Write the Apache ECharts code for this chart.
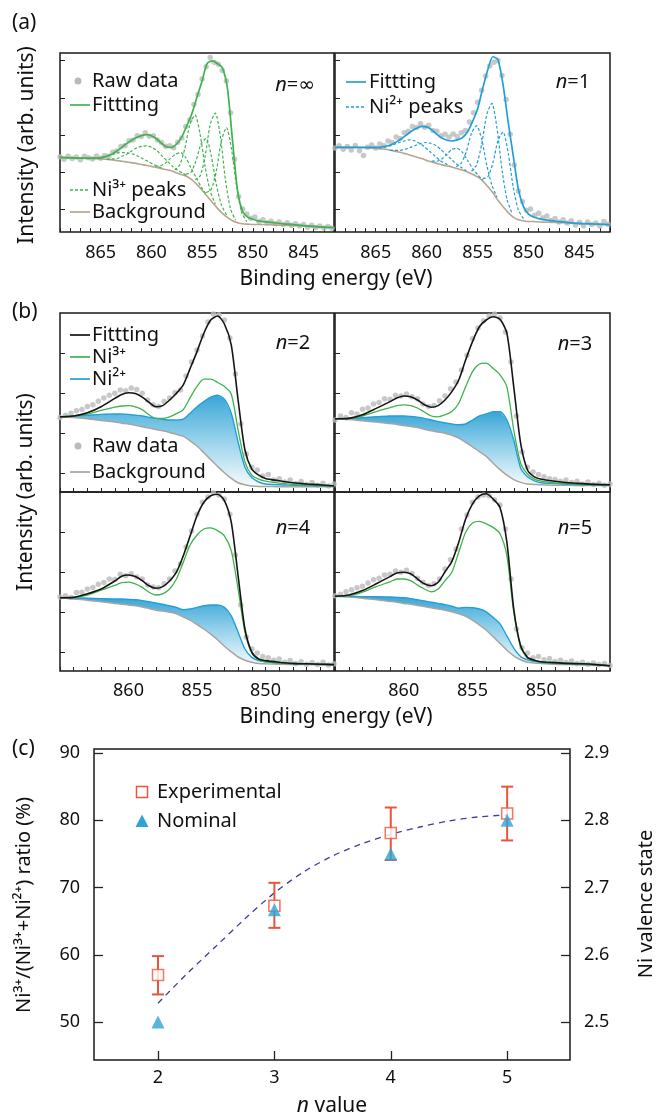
<!DOCTYPE html>
<html>
<head>
<meta charset="utf-8">
<script src="https://cdn.jsdelivr.net/npm/echarts/dist/echarts.min.js"></script>
<style>
  html, body { margin: 0; background: #fff; }
  #chart { width: 669px; height: 1117px; }
</style>
</head>
<body>
<div id="chart"></div>
<script>
// ---- panel (a): binding energy grid for the fitted curves ----
const energyA = [869,868,867,866,865,864.5,864,863.5,863,862.5,862,861.5,861,860.5,860,859.5,859,858.5,858,857.5,857,856.5,856,855.5,855,854.5,854,853.5,853,852.5,852,851.5,851,850.5,850,849.5,849,848,847,846,845,844,843,842];
// n = infinity (Ni3+ only)
const fitInf = [2.00,1.99,1.98,1.98,1.99,2.02,2.07,2.15,2.25,2.36,2.45,2.53,2.58,2.61,2.58,2.50,2.38,2.28,2.27,2.36,2.55,2.85,3.18,3.62,4.05,4.52,4.59,4.52,4.40,3.85,2.45,1.10,0.55,0.40,0.34,0.30,0.28,0.25,0.22,0.20,0.17,0.15,0.13,0.12];
const bgInf = [2.00,1.99,1.98,1.97,1.96,1.95,1.94,1.92,1.90,1.88,1.86,1.84,1.81,1.79,1.76,1.73,1.70,1.67,1.64,1.58,1.54,1.49,1.40,1.27,1.12,0.96,0.80,0.64,0.50,0.39,0.30,0.25,0.22,0.21,0.20,0.20,0.20,0.19,0.18,0.17,0.16,0.14,0.13,0.12];
// n = 1 (Ni2+ only)
const fitOne = [2.27,2.27,2.27,2.27,2.27,2.28,2.30,2.34,2.41,2.50,2.60,2.70,2.78,2.83,2.82,2.74,2.62,2.52,2.46,2.44,2.47,2.53,2.68,2.96,3.30,3.85,4.35,4.70,4.62,3.95,2.95,2.05,1.15,0.68,0.48,0.40,0.36,0.31,0.28,0.25,0.23,0.22,0.21,0.20];
const bgOne = [2.27,2.27,2.27,2.26,2.24,2.23,2.22,2.19,2.16,2.13,2.09,2.05,2.01,1.97,1.92,1.88,1.84,1.80,1.77,1.74,1.70,1.66,1.61,1.55,1.48,1.37,1.22,1.05,0.85,0.68,0.52,0.40,0.33,0.30,0.28,0.28,0.27,0.26,0.25,0.24,0.22,0.21,0.20,0.19];

// Ni3+ component peaks, n = infinity  [energy, intensity]
const peaksInf = [
  [[865.8,1.98],[865.3,1.99],[864.8,2.01],[864.3,2.05],[863.8,2.09],[863.3,2.12],[862.8,2.13],[862.3,2.12],[861.8,2.09],[861.3,2.03],[860.8,1.96],[860.3,1.89],[859.8,1.81],[859.3,1.75],[858.8,1.70]],
  [[864.4,1.95],[863.9,1.96],[863.4,1.97],[862.9,2.03],[862.4,2.09],[861.9,2.18],[861.4,2.26],[860.9,2.30],[860.4,2.31],[859.9,2.26],[859.4,2.17],[858.9,2.03],[858.4,1.89],[857.9,1.76],[857.4,1.65],[856.9,1.58],[856.4,1.48]],
  [[859.6,1.76],[859.1,1.78],[858.6,1.85],[858.1,1.98],[857.6,2.09],[857.1,2.13],[856.6,1.99],[856.1,1.72],[855.6,1.47],[855.1,1.21],[854.6,1.01]],
  [[857.7,1.66],[857.2,1.80],[856.7,2.24],[856.2,2.88],[855.7,3.14],[855.2,2.63],[854.7,1.75],[854.2,1.10],[853.7,0.75]],
  [[856.6,1.55],[856.1,1.60],[855.6,1.91],[855.1,2.36],[854.6,2.51],[854.1,2.05],[853.6,1.28],[853.1,0.73],[852.6,0.46]],
  [[855.7,1.40],[855.2,1.50],[854.7,2.03],[854.2,2.88],[853.7,3.19],[853.2,2.57],[852.7,1.40],[852.2,0.62],[851.7,0.32]],
  [[854.6,1.06],[854.1,1.14],[853.6,1.63],[853.1,2.44],[852.6,2.80],[852.1,2.22],[851.6,1.22],[851.1,0.53],[850.6,0.28]]
];
// Ni2+ component peaks, n = 1
const peaksOne = [
  [[864.7,2.25],[864.2,2.27],[863.7,2.30],[863.2,2.35],[862.7,2.40],[862.2,2.44],[861.7,2.47],[861.2,2.45],[860.7,2.38],[860.2,2.28],[859.7,2.16],[859.2,2.04],[858.7,1.92],[858.2,1.84],[857.7,1.77]],
  [[863.6,2.19],[863.1,2.19],[862.6,2.19],[862.1,2.22],[861.6,2.27],[861.1,2.32],[860.6,2.37],[860.1,2.40],[859.6,2.38],[859.1,2.32],[858.6,2.21],[858.1,2.08],[857.6,1.96],[857.1,1.83],[856.6,1.73],[856.1,1.64]],
  [[859.5,1.90],[859.0,1.90],[858.5,1.96],[858.0,2.09],[857.5,2.22],[857.0,2.24],[856.5,2.14],[856.0,1.93],[855.5,1.71],[855.0,1.54],[854.5,1.39]],
  [[857.1,1.75],[856.6,1.85],[856.1,2.16],[855.6,2.65],[855.1,2.85],[854.6,2.49],[854.1,1.79],[853.6,1.26],[853.1,0.93]],
  [[855.6,1.63],[855.1,1.80],[854.6,2.35],[854.1,3.15],[853.6,3.45],[853.1,2.79],[852.6,1.66],[852.1,0.86],[851.6,0.49]],
  [[854.5,1.43],[854.0,1.48],[853.5,1.85],[853.0,2.45],[852.5,2.68],[852.0,2.12],[851.5,1.20],[851.0,0.59],[850.5,0.36]]
];

// raw data, panel (a)
const rawEnergyA = [869.0,868.6,868.2,867.8,867.4,867.0,866.6,866.2,865.8,865.4,865.0,864.6,864.2,863.8,863.4,863.0,862.6,862.2,861.8,861.4,861.0,860.6,860.2,859.8,859.4,859.0,858.6,858.2,857.8,857.4,857.0,856.6,856.2,855.8,855.4,855.0,854.6,854.2,853.8,853.4,853.0,852.6,852.2,851.8,851.4,851.0,850.6,850.2,849.8,849.4,849.0,848.6,848.2,847.8,847.4,847.0,846.6,846.2,845.8,845.4,845.0,844.6,844.2,843.8,843.4,843.0,842.6,842.2];
const rawInf = [2.02,1.95,2.03,1.97,2.01,1.94,2.03,1.99,1.96,2.04,1.98,2.05,2.03,2.14,2.17,2.29,2.31,2.45,2.47,2.58,2.56,2.66,2.57,2.58,2.47,2.40,2.30,2.31,2.26,2.41,2.52,2.83,3.01,3.42,3.69,4.10,4.43,4.68,4.55,4.50,4.33,4.05,3.20,1.95,0.95,0.62,0.48,0.37,0.40,0.28,0.33,0.25,0.29,0.22,0.27,0.20,0.25,0.18,0.22,0.16,0.20,0.13,0.18,0.12,0.16,0.11,0.15,0.10];
const rawOne = [2.25,2.31,2.22,2.29,2.20,2.32,2.18,2.05,2.27,2.33,2.25,2.36,2.31,2.44,2.40,2.55,2.51,2.66,2.70,2.83,2.80,2.90,2.81,2.86,2.72,2.70,2.58,2.62,2.55,2.63,2.56,2.66,2.72,2.95,3.20,3.48,3.80,4.18,4.45,4.55,4.60,4.20,3.55,2.62,1.80,1.10,0.82,0.58,0.62,0.45,0.50,0.38,0.43,0.31,0.36,0.27,0.33,0.24,0.30,0.19,0.26,0.17,0.27,0.20,0.24,0.16,0.28,0.21];

// ---- panel (b): n = 2..5 ----
const energyB = [865,864,863,862,861,860.5,860,859.5,859,858.5,858,857.5,857,856.5,856,855.5,855,854.5,854,853.5,853,852.5,852,851.5,851,850.5,850,849,848,847,846,845];
const fitN2 = [1.88,1.90,1.98,2.13,2.34,2.44,2.48,2.46,2.37,2.24,2.13,2.16,2.30,2.47,2.68,3.09,3.51,3.97,4.30,4.40,4.20,3.68,2.30,1.05,0.57,0.42,0.34,0.28,0.23,0.20,0.18,0.15];
const ni3N2 = [1.88,1.90,1.95,2.04,2.12,2.15,2.16,2.13,2.06,1.93,1.84,1.84,1.88,1.96,2.06,2.36,2.64,2.82,2.82,2.74,2.64,2.45,1.55,0.75,0.42,0.32,0.27,0.22,0.19,0.17,0.16,0.14];
const ni2N2 = [1.88,1.90,1.92,1.94,1.95,1.95,1.94,1.92,1.90,1.87,1.84,1.82,1.80,1.80,1.82,1.97,2.13,2.26,2.37,2.42,2.32,1.97,1.25,0.62,0.36,0.25,0.20,0.18,0.17,0.16,0.15,0.14];
const bgN2 = [1.88,1.86,1.83,1.79,1.75,1.72,1.70,1.67,1.63,1.60,1.56,1.53,1.49,1.44,1.39,1.28,1.15,0.98,0.81,0.64,0.48,0.34,0.23,0.18,0.15,0.14,0.14,0.13,0.13,0.13,0.13,0.13];

const fitN3 = [1.83,1.84,1.93,2.09,2.26,2.35,2.40,2.38,2.30,2.18,2.12,2.16,2.30,2.51,2.80,3.30,3.76,4.13,4.30,4.38,4.32,3.97,2.63,1.22,0.55,0.38,0.32,0.27,0.23,0.21,0.19,0.18];
const ni3N3 = [1.83,1.84,1.90,2.01,2.11,2.16,2.18,2.16,2.10,2.00,1.90,1.88,1.93,2.01,2.22,2.63,3.01,3.20,3.22,3.09,2.93,2.63,1.55,0.72,0.45,0.32,0.27,0.23,0.21,0.19,0.18,0.18];
const ni2N3 = [1.83,1.84,1.86,1.88,1.90,1.90,1.90,1.89,1.87,1.84,1.80,1.76,1.73,1.70,1.68,1.70,1.80,1.90,1.95,2.01,2.01,1.80,1.30,0.60,0.38,0.28,0.23,0.21,0.19,0.18,0.18,0.18];
const bgN3 = [1.83,1.81,1.78,1.75,1.71,1.69,1.66,1.64,1.61,1.57,1.53,1.50,1.47,1.42,1.35,1.24,1.13,1.01,0.89,0.72,0.56,0.42,0.31,0.24,0.20,0.19,0.18,0.17,0.17,0.16,0.16,0.16];

const fitN4 = [1.83,1.84,1.93,2.05,2.25,2.37,2.40,2.36,2.26,2.13,2.07,2.11,2.25,2.47,2.88,3.38,3.88,4.22,4.38,4.42,4.26,3.72,2.38,1.05,0.47,0.30,0.26,0.22,0.19,0.18,0.17,0.16];
const ni3N4 = [1.83,1.84,1.90,2.02,2.14,2.21,2.22,2.18,2.09,1.97,1.90,1.93,2.05,2.30,2.72,3.15,3.40,3.55,3.58,3.51,3.38,3.01,2.05,0.97,0.45,0.28,0.23,0.20,0.18,0.18,0.17,0.16];
const ni2N4 = [1.83,1.83,1.82,1.81,1.80,1.80,1.79,1.78,1.76,1.73,1.70,1.67,1.63,1.59,1.53,1.55,1.59,1.63,1.65,1.65,1.59,1.38,0.97,0.55,0.34,0.26,0.23,0.20,0.18,0.18,0.17,0.16];
const bgN4 = [1.83,1.80,1.77,1.73,1.69,1.67,1.65,1.63,1.60,1.56,1.52,1.50,1.47,1.43,1.35,1.27,1.16,1.05,0.92,0.78,0.62,0.48,0.35,0.27,0.22,0.19,0.18,0.17,0.16,0.16,0.15,0.15];

const fitN5 = [1.87,1.90,2.01,2.18,2.36,2.45,2.47,2.43,2.30,2.18,2.13,2.22,2.48,2.74,3.22,3.80,4.18,4.38,4.43,4.30,4.09,3.22,1.55,0.63,0.34,0.27,0.23,0.21,0.19,0.18,0.16,0.13];
const ni3N5 = [1.87,1.88,1.97,2.11,2.23,2.30,2.30,2.26,2.15,2.05,1.98,2.05,2.26,2.47,2.97,3.47,3.70,3.74,3.68,3.59,3.43,2.88,1.47,0.60,0.32,0.26,0.22,0.20,0.18,0.17,0.16,0.13];
const ni2N5 = [1.87,1.87,1.86,1.86,1.85,1.84,1.83,1.81,1.78,1.75,1.72,1.69,1.66,1.62,1.57,1.59,1.58,1.55,1.48,1.34,1.18,0.88,0.57,0.36,0.28,0.24,0.21,0.19,0.18,0.17,0.15,0.13];
const bgN5 = [1.87,1.85,1.82,1.78,1.74,1.72,1.69,1.67,1.64,1.61,1.58,1.55,1.52,1.48,1.43,1.37,1.27,1.15,1.02,0.86,0.69,0.52,0.38,0.28,0.22,0.20,0.19,0.17,0.16,0.15,0.14,0.13];

// raw data, panel (b)
const rawEnergyB = [865.0,864.6,864.2,863.8,863.4,863.0,862.6,862.2,861.8,861.4,861.0,860.6,860.2,859.8,859.4,859.0,858.6,858.2,857.8,857.4,857.0,856.6,856.2,855.8,855.4,855.0,854.6,854.2,853.8,853.4,853.0,852.6,852.2,851.8,851.4,851.0,850.6,850.2,849.8,849.4,849.0,848.6,848.2,847.8,847.4,847.0,846.6,846.2,845.8,845.4,845.0];
const rawN2 = [1.86,1.92,1.97,2.03,2.06,2.14,2.18,2.27,2.35,2.42,2.47,2.55,2.53,2.60,2.56,2.47,2.30,2.18,2.14,2.26,2.35,2.48,2.55,2.90,3.25,3.55,3.90,4.25,4.45,4.43,4.30,3.85,2.95,1.70,0.95,0.62,0.55,0.40,0.44,0.30,0.33,0.25,0.30,0.21,0.26,0.19,0.24,0.17,0.22,0.15,0.20];
const rawN3 = [1.80,1.90,1.86,1.98,1.95,2.07,2.10,2.20,2.24,2.33,2.32,2.42,2.40,2.45,2.38,2.33,2.20,2.14,2.16,2.28,2.40,2.58,2.75,3.05,3.42,3.83,4.10,4.28,4.40,4.45,4.35,4.00,3.25,1.90,1.00,0.62,0.50,0.44,0.38,0.33,0.31,0.27,0.30,0.24,0.27,0.20,0.25,0.19,0.22,0.17,0.20];
const rawN4 = [1.85,1.88,1.84,1.96,1.97,2.05,2.09,2.17,2.21,2.30,2.29,2.42,2.38,2.43,2.35,2.30,2.15,2.10,2.08,2.18,2.30,2.50,2.68,3.10,3.50,3.92,4.22,4.35,4.45,4.40,4.30,3.92,2.90,1.65,0.85,0.55,0.45,0.36,0.33,0.27,0.30,0.22,0.26,0.19,0.23,0.17,0.21,0.16,0.22,0.15,0.18];
const rawN5 = [1.88,1.92,1.98,2.03,2.08,2.12,2.20,2.28,2.32,2.40,2.42,2.50,2.47,2.52,2.44,2.32,2.22,2.14,2.18,2.30,2.55,2.78,3.05,3.55,3.90,4.22,4.35,4.40,4.38,4.28,4.15,3.55,2.30,1.05,0.58,0.45,0.33,0.36,0.28,0.31,0.24,0.27,0.21,0.25,0.19,0.22,0.17,0.20,0.16,0.19,0.14];

// ---- panel (c) ----
const nValues = [2, 3, 4, 5];
const expRatio = [57.0, 67.3, 78.1, 81.0];
const expLow = [54.1, 64.0, 74.1, 77.0];
const expHigh = [59.8, 70.7, 81.9, 85.0];
const nominalRatio = [50, 66.7, 75, 80];
const trendN = [2, 2.25, 2.5, 2.75, 3, 3.25, 3.5, 3.75, 4, 4.25, 4.5, 4.75, 5];
const trendRatio = [52.8, 57.2, 61.3, 65.4, 69.2, 72.3, 74.7, 76.5, 77.9, 79.0, 79.9, 80.5, 80.8];
const ratioTicks = [50, 60, 70, 80, 90];
const valenceTicks = [2.5, 2.6, 2.7, 2.8, 2.9];

const FONT = '"Noto Sans", "DejaVu Sans", sans-serif';
const GREEN = '#3fb34f';
const BLUE = '#22a0d6';
const TAN = '#b9a58f';
const GREYBG = '#a8a4a0';
const RAW = '#bababa';
const BLACK = '#151515';
const RED = '#e8553a';
const TRI = '#2fa3d4';
const NAVY = '#3b3f99';

const pairs = (xs, ys) => xs.map((x, i) => [x, ys[i]]);

function energyAxis(gi, min, max, labels, margin) {
  return {
    type: 'value', gridIndex: gi, min: min, max: max, interval: 1, inverse: true,
    axisLine: { show: false }, splitLine: { show: false },
    axisTick: { show: true, inside: true, length: 4, lineStyle: { color: '#222', width: 1 } },
    axisLabel: labels
      ? { show: true, customValues: labels, fontSize: 18, color: '#111', fontFamily: FONT, margin: margin }
      : { show: false }
  };
}
function intensityAxis(gi, max, ticks) {
  return {
    type: 'value', gridIndex: gi, min: 0, max: max,
    axisLine: { show: false }, splitLine: { show: false }, axisLabel: { show: false },
    axisTick: { show: true, inside: true, length: 5, customValues: ticks, lineStyle: { color: '#222', width: 1 } }
  };
}
function line(gi, data, color, width, dashed, z) {
  return {
    type: 'line', xAxisIndex: gi, yAxisIndex: gi, data: data, symbol: 'none', smooth: 0.25,
    silent: true, z: z, lineStyle: { color: color, width: width, type: dashed ? [3, 2] : 'solid' }
  };
}
function raw(gi, data) {
  return {
    type: 'scatter', xAxisIndex: gi, yAxisIndex: gi, data: data, symbolSize: 5.5, silent: true, z: 1,
    itemStyle: { color: RAW }
  };
}
function band(gi, E, top, bottom) {
  return {
    type: 'custom', xAxisIndex: gi, yAxisIndex: gi, data: [[E[0], bottom[0]]], silent: true, z: 2,
    renderItem: function (params, api) {
      const up = E.map((e, i) => api.coord([e, top[i]]));
      const down = E.map((e, i) => api.coord([e, bottom[i]])).reverse();
      return {
        type: 'polygon', shape: { points: up.concat(down) },
        style: {
          fill: { type: 'linear', x: 0, y: 0, x2: 0, y2: 1,
            colorStops: [{ offset: 0, color: '#3aa6d7' }, { offset: 0.45, color: '#8fcfea' }, { offset: 1, color: '#f6fbfd' }] }
        }
      };
    }
  };
}
function panelB(gi, fit, ni3, ni2, bg, rawVals) {
  return [
    raw(gi, pairs(rawEnergyB, rawVals)),
    band(gi, energyB, ni2, bg),
    line(gi, pairs(energyB, bg), GREYBG, 1.5, false, 3),
    line(gi, pairs(energyB, ni2), BLUE, 1.4, false, 4),
    line(gi, pairs(energyB, ni3), GREEN, 1.3, false, 4),
    line(gi, pairs(energyB, fit), BLACK, 1.6, false, 5)
  ];
}

// ---- text helpers for legends and titles ----
function txt(x, y, text, size, extra) {
  return Object.assign({
    type: 'text', x: x, y: y, silent: true,
    style: { text: text, fontSize: size, fontFamily: FONT, fill: '#111', align: 'left', verticalAlign: 'middle' }
  }, extra || {});
}
function ctxt(x, y, text, size, rot) {
  return {
    type: 'text', x: x, y: y, rotation: rot || 0, silent: true,
    style: { text: text, fontSize: size, fontFamily: FONT, fill: '#111', align: 'center', verticalAlign: 'middle' }
  };
}
function ntxt(x, y, rest) {
  return {
    type: 'text', x: x, y: y, silent: true,
    style: {
      text: '{i|n}{r|' + rest + '}', align: 'center', verticalAlign: 'middle',
      rich: {
        i: { fontStyle: 'italic', fontSize: 20, fontFamily: FONT, fill: '#111' },
        r: { fontSize: 20, fontFamily: FONT, fill: '#111' }
      }
    }
  };
}
function legLine(x, y, color, dashed) {
  return {
    type: 'line', silent: true, shape: { x1: x, y1: y, x2: x + 20, y2: y },
    style: { stroke: color, lineWidth: 1.7, lineDash: dashed ? [3, 2] : null }
  };
}
function legDot(x, y) {
  return { type: 'circle', silent: true, shape: { cx: x, cy: y, r: 3.5 }, style: { fill: RAW } };
}

const gridBase = { show: true, borderColor: '#1a1a1a', borderWidth: 1.5, backgroundColor: 'transparent', outerBoundsMode: 'none', containLabel: false };
const grids = [
  { left: 60, top: 53, width: 274, height: 179 },
  { left: 335, top: 53, width: 275, height: 179 },
  { left: 60, top: 313, width: 274, height: 179 },
  { left: 335, top: 313, width: 275, height: 179 },
  { left: 60, top: 492, width: 274, height: 179 },
  { left: 335, top: 492, width: 275, height: 179 },
  { left: 94, top: 749, width: 476, height: 311 }
].map(g => Object.assign({}, gridBase, g));

const tickA = [0.6, 1.6, 2.6, 3.6, 4.6];
const tickB = [0.47, 1.47, 2.47, 3.47];
const labA = [845, 850, 855, 860, 865];
const labB = [850, 855, 860];

const xAxes = [
  energyAxis(0, 842, 869, labA, 12),
  energyAxis(1, 842, 869, labA, 12),
  energyAxis(2, 845, 865, null),
  energyAxis(3, 845, 865, null),
  energyAxis(4, 845, 865, labB, 11),
  energyAxis(5, 845, 865, labB, 11),
  {
    type: 'value', gridIndex: 6, min: 1.45, max: 5.54,
    axisLine: { show: false }, splitLine: { show: false },
    axisTick: { show: true, inside: true, length: 9, customValues: nValues, lineStyle: { color: '#222', width: 1.3 } },
    axisLabel: { show: true, customValues: nValues, fontSize: 18, color: '#111', fontFamily: FONT, margin: 9 }
  }
];
const yAxes = [
  intensityAxis(0, 4.8, tickA),
  intensityAxis(1, 4.8, tickA),
  intensityAxis(2, 4.475, tickB),
  intensityAxis(3, 4.475, tickB),
  intensityAxis(4, 4.475, tickB),
  intensityAxis(5, 4.475, tickB),
  {
    type: 'value', gridIndex: 6, min: 44.35, max: 90.6, position: 'left',
    axisLine: { show: false }, splitLine: { show: false },
    axisTick: { show: true, inside: true, length: 9, customValues: ratioTicks, lineStyle: { color: '#222', width: 1.3 } },
    axisLabel: { show: true, customValues: ratioTicks, fontSize: 18, color: '#111', fontFamily: FONT, margin: 14 }
  },
  {
    type: 'value', gridIndex: 6, min: 2.4435, max: 2.906, position: 'right',
    axisLine: { show: false }, splitLine: { show: false },
    axisTick: { show: true, inside: true, length: 9, customValues: valenceTicks, lineStyle: { color: '#222', width: 1.3 } },
    axisLabel: { show: true, customValues: valenceTicks, fontSize: 18, color: '#111', fontFamily: FONT, margin: 14,
      formatter: v => v.toFixed(1) }
  }
];

const series = [];
// (a) left: n = infinity
series.push(raw(0, pairs(rawEnergyA, rawInf)));
series.push(line(0, pairs(energyA, bgInf), TAN, 1.6, false, 3));
peaksInf.forEach(p => series.push(line(0, p, GREEN, 1.2, true, 4)));
series.push(line(0, pairs(energyA, fitInf), GREEN, 1.7, false, 5));
// (a) right: n = 1
series.push(raw(1, pairs(rawEnergyA, rawOne)));
series.push(line(1, pairs(energyA, bgOne), TAN, 1.6, false, 3));
peaksOne.forEach(p => series.push(line(1, p, BLUE, 1.2, true, 4)));
series.push(line(1, pairs(energyA, fitOne), BLUE, 1.7, false, 5));
// (b)
series.push(...panelB(2, fitN2, ni3N2, ni2N2, bgN2, rawN2));
series.push(...panelB(3, fitN3, ni3N3, ni2N3, bgN3, rawN3));
series.push(...panelB(4, fitN4, ni3N4, ni2N4, bgN4, rawN4));
series.push(...panelB(5, fitN5, ni3N5, ni2N5, bgN5, rawN5));
// (c)
series.push({
  type: 'line', xAxisIndex: 6, yAxisIndex: 6, data: pairs(trendN, trendRatio), symbol: 'none', smooth: 0.3,
  silent: true, z: 2, lineStyle: { color: NAVY, width: 1.3, type: [6, 5] }
});
series.push({
  type: 'custom', xAxisIndex: 6, yAxisIndex: 6, z: 3, silent: true,
  data: nValues.map((n, i) => [n, expLow[i], expHigh[i]]),
  renderItem: function (params, api) {
    const lo = api.coord([api.value(0), api.value(1)]);
    const hi = api.coord([api.value(0), api.value(2)]);
    const w = 6;
    const st = { stroke: RED, lineWidth: 2 };
    return {
      type: 'group', children: [
        { type: 'line', shape: { x1: lo[0], y1: lo[1], x2: hi[0], y2: hi[1] }, style: st },
        { type: 'line', shape: { x1: lo[0] - w, y1: lo[1], x2: lo[0] + w, y2: lo[1] }, style: st },
        { type: 'line', shape: { x1: hi[0] - w, y1: hi[1], x2: hi[0] + w, y2: hi[1] }, style: st }
      ]
    };
  }
});
series.push({
  type: 'scatter', xAxisIndex: 6, yAxisIndex: 6, z: 4, silent: true,
  data: pairs(nValues, expRatio), symbol: 'rect', symbolSize: 11,
  itemStyle: { color: '#fff', borderColor: RED, borderWidth: 1.5 }
});
series.push({
  type: 'scatter', xAxisIndex: 6, yAxisIndex: 6, z: 5, silent: true,
  data: pairs(nValues, nominalRatio), symbol: 'triangle', symbolSize: 13,
  itemStyle: { color: TRI }
});

const graphics = [
  // panel labels and axis titles
  txt(12, 23, '(a)', 21),
  txt(12, 312, '(b)', 21),
  txt(12, 749, '(c)', 21),
  ctxt(27, 145, 'Intensity (arb. units)', 21, Math.PI / 2),
  ctxt(336, 279, 'Binding energy (eV)', 21),
  ctxt(26, 492, 'Intensity (arb. units)', 21, Math.PI / 2),
  ctxt(336, 717, 'Binding energy (eV)', 21),
  ctxt(24, 905, 'Ni³⁺/(Ni³⁺+Ni²⁺) ratio (%)', 20, Math.PI / 2),
  ctxt(646, 904, 'Ni valence state', 20, Math.PI / 2),
  {
    type: 'text', x: 332, y: 1106, silent: true,
    style: {
      text: '{i|n} value', align: 'center', verticalAlign: 'middle', fontSize: 21, fontFamily: FONT, fill: '#111',
      rich: { i: { fontStyle: 'italic', fontSize: 21, fontFamily: FONT, fill: '#111' } }
    }
  },
  // (a) left legend
  legDot(78, 81), txt(92, 81, 'Raw data', 20),
  legLine(70, 105, GREEN, false), txt(92, 105, 'Fittting', 20),
  legLine(70, 190, GREEN, true), txt(92, 190, 'Ni³⁺ peaks', 20),
  legLine(70, 212, TAN, false), txt(92, 212, 'Background', 20),
  ntxt(295, 85, '=∞'),
  // (a) right legend
  legLine(346, 82, BLUE, false), txt(369, 82, 'Fittting', 20),
  legLine(346, 107, BLUE, true), txt(369, 107, 'Ni²⁺ peaks', 20),
  ntxt(573, 82, '=1'),
  // (b) legend
  legLine(70, 335, BLACK, false), txt(92, 335, 'Fittting', 20),
  legLine(70, 357, GREEN, false), txt(92, 357, 'Ni³⁺', 20),
  legLine(70, 379, BLUE, false), txt(92, 379, 'Ni²⁺', 20),
  legDot(78, 446), txt(92, 446, 'Raw data', 20),
  legLine(70, 472, GREYBG, false), txt(92, 472, 'Background', 20),
  ntxt(293, 343, '=2'),
  ntxt(575, 344, '=3'),
  ntxt(293, 528, '=4'),
  ntxt(575, 528, '=5'),
  // (c) legend
  { type: 'rect', silent: true, shape: { x: 136.5, y: 786.5, width: 11, height: 11 }, style: { fill: '#fff', stroke: RED, lineWidth: 1.5 } },
  txt(157, 792, 'Experimental', 20),
  { type: 'polygon', silent: true, shape: { points: [[142, 814.5], [135.5, 827], [148.5, 827]] }, style: { fill: TRI } },
  txt(157, 821, 'Nominal', 20)
];

const chart = echarts.init(document.getElementById('chart'), null, { renderer: 'canvas' });
chart.setOption({
  backgroundColor: '#fff',
  animation: false,
  grid: grids,
  xAxis: xAxes,
  yAxis: yAxes,
  series: series,
  graphic: { elements: graphics }
});
</script>
</body>
</html>
